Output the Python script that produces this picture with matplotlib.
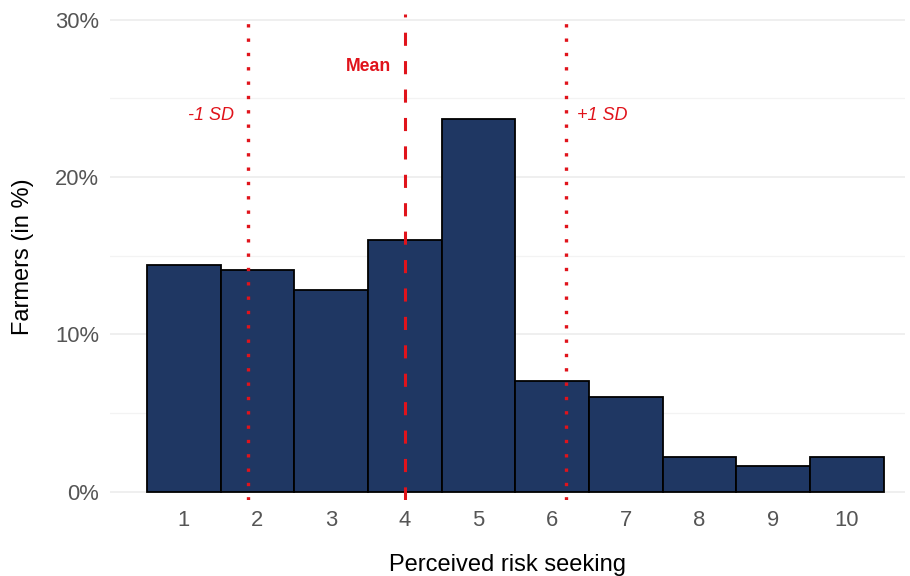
import numpy as np
import matplotlib
matplotlib.use("Agg")
import matplotlib.pyplot as plt
from matplotlib.ticker import MultipleLocator

# -------------------------------
# Data
# -------------------------------
scores = [1, 2, 3, 4, 5, 6, 7, 8, 9, 10]
share = [14.4, 14.1, 12.8, 16.0, 23.7, 7.05, 6.05, 2.2, 1.65, 2.2]
mean_val = 4.01
sd_low = 1.87
sd_high = 6.19

plt.rcParams["font.family"] = ["Liberation Sans", "DejaVu Sans"]

red = "#E0131B"
navy = "#1F3763"
grey = "#555555"

fig = plt.figure(figsize=(9.1, 5.76), dpi=100)
ax = fig.add_axes([0.1209, 0.132, 0.8736, 0.8437])

# Bars
ax.bar(scores, share, width=1.0, color=navy, edgecolor="black", linewidth=1.3, zorder=2)

# Reference lines
ax.axvline(mean_val, color=red, linewidth=2.2, linestyle=(0, (4.3, 5)), zorder=3)
ax.axvline(sd_low, color=red, linewidth=2.4, linestyle=(0, (1, 3.3)), zorder=3)
ax.axvline(sd_high, color=red, linewidth=2.4, linestyle=(0, (1, 3.3)), zorder=3)

# Labels on the lines
ax.text(mean_val - 0.19, 27.0, "Mean", color=red, fontsize=12.7, fontweight="bold",
        ha="right", va="center")
ax.text(sd_low - 0.19, 23.9, "-1 SD", color=red, fontsize=13, fontstyle="italic",
        ha="right", va="center")
ax.text(sd_high + 0.15, 23.9, "+1 SD", color=red, fontsize=13, fontstyle="italic",
        ha="left", va="center")

# Axes
ax.set_xlim(0, 10.79)
ax.set_ylim(-0.51, 30.35)
ax.set_xticks(scores)
ax.set_xticklabels([str(s) for s in scores])
ax.set_yticks([0, 10, 20, 30])
ax.set_yticklabels(["0%", "10%", "20%", "30%"])
ax.yaxis.set_minor_locator(MultipleLocator(5))

ax.grid(axis="y", which="major", color="#EBEBEB", linewidth=1.1, zorder=0)
ax.grid(axis="y", which="minor", color="#F3F3F3", linewidth=0.9, zorder=0)
ax.set_axisbelow(True)

for s in ax.spines.values():
    s.set_visible(False)
ax.tick_params(axis="both", which="both", length=0, labelsize=15.8, labelcolor=grey)
ax.tick_params(axis="x", pad=7)
ax.tick_params(axis="y", pad=8)

ax.set_xlabel("Perceived risk seeking", fontsize=17, labelpad=17)
ax.set_ylabel("Farmers (in %)", fontsize=17, labelpad=15)

plt.savefig("out.png", dpi=100)
